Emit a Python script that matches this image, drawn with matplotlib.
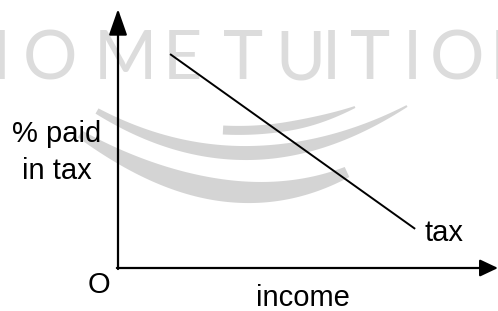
import numpy as np
import matplotlib
matplotlib.use('Agg')
import matplotlib.pyplot as plt
from matplotlib.patches import Polygon

# tax line: % of income paid in tax falls as income rises
income = [0.137, 0.782]
pct_tax = [0.826, 0.151]

x_label = 'income'
y_label = '% paid\nin tax'
line_label = 'tax'
origin_label = 'O'
watermark = 'HOME TUITION'

plt.rcParams['font.family'] = ['Liberation Sans', 'DejaVu Sans']

fig = plt.figure(figsize=(4.98, 3.11), dpi=100)
fig.patch.set_facecolor('white')

#%% watermark layer (pixel coords)
bg = fig.add_axes([0, 0, 1, 1])
bg.set_xlim(0, 498)
bg.set_ylim(311, 0)
bg.axis('off')

# letter centres of the faded watermark
wm_x = [-15, 50, 125, 182, 0, 243, 300, 331, 370, 412, 457, 516]
for ch, xc in zip(watermark, wm_x):
    if ch == ' ':
        continue
    bg.text(xc, 79, ch, fontsize=49, color='#dcdcdc', family=['Lato', 'DejaVu Sans'],
            ha='center', va='baseline')


def band(p0, mid, p2, w0, wm, w1, color='#d4d4d4'):
    # thick brush stroke along a quadratic curve
    p0 = np.array(p0, float)
    p2 = np.array(p2, float)
    c = 2 * np.array(mid, float) - (p0 + p2) / 2
    t = np.linspace(0, 1, 80)[:, None]
    pts = (1 - t) ** 2 * p0 + 2 * (1 - t) * t * c + t ** 2 * p2
    d = 2 * (1 - t) * (c - p0) + 2 * t * (p2 - c)
    n = np.column_stack([-d[:, 1], d[:, 0]])
    n /= np.linalg.norm(n, axis=1)[:, None]
    tt = t[:, 0]
    w = np.where(tt < 0.5, w0 + (wm - w0) * np.sin(np.pi * tt),
                 w1 + (wm - w1) * np.sin(np.pi * tt))
    upper = pts + n * w[:, None] / 2
    lower = pts - n * w[:, None] / 2
    poly = np.vstack([upper, lower[::-1]])
    bg.add_patch(Polygon(poly, closed=True, facecolor=color, edgecolor='none'))


band((80, 134), (220, 190), (347, 172), 8, 22, 11)
band((97, 111), (250, 153), (407, 106), 6, 14, 2)
band((223, 130), (290, 126), (355, 107), 9, 9, 2)

#%% the diagram
ax = fig.add_axes([118 / 498, 43 / 311, 380 / 498, 259 / 311])
ax.set_xlim(0, 1)
ax.set_ylim(0, 1)
ax.axis('off')
ax.patch.set_alpha(0)

ax.annotate('', xy=(0, 1), xytext=(0, -0.004), xycoords='axes fraction',
            arrowprops=dict(arrowstyle='-|>,head_length=0.8,head_width=0.28',
                            mutation_scale=20, lw=1.6, color='black',
                            shrinkA=0, shrinkB=0))
ax.annotate('', xy=(1, 0), xytext=(-0.003, 0), xycoords='axes fraction',
            arrowprops=dict(arrowstyle='-|>,head_length=0.55,head_width=0.26',
                            mutation_scale=20, lw=1.6, color='black',
                            shrinkA=0, shrinkB=0))

ax.plot(income, pct_tax, color='black', lw=1.4, solid_capstyle='butt')

ax.text(-0.161, 0.445, y_label, fontsize=21, ha='center', va='center',
        transform=ax.transAxes, linespacing=1.4)
ax.text(-0.05, -0.065, origin_label, fontsize=21, ha='center', va='center',
        transform=ax.transAxes)
ax.text(0.487, -0.115, x_label, fontsize=21, ha='center', va='center',
        transform=ax.transAxes)
ax.text(0.806, 0.135, line_label, fontsize=21, ha='left', va='center',
        transform=ax.transAxes)

plt.savefig('out.png', dpi=100)
